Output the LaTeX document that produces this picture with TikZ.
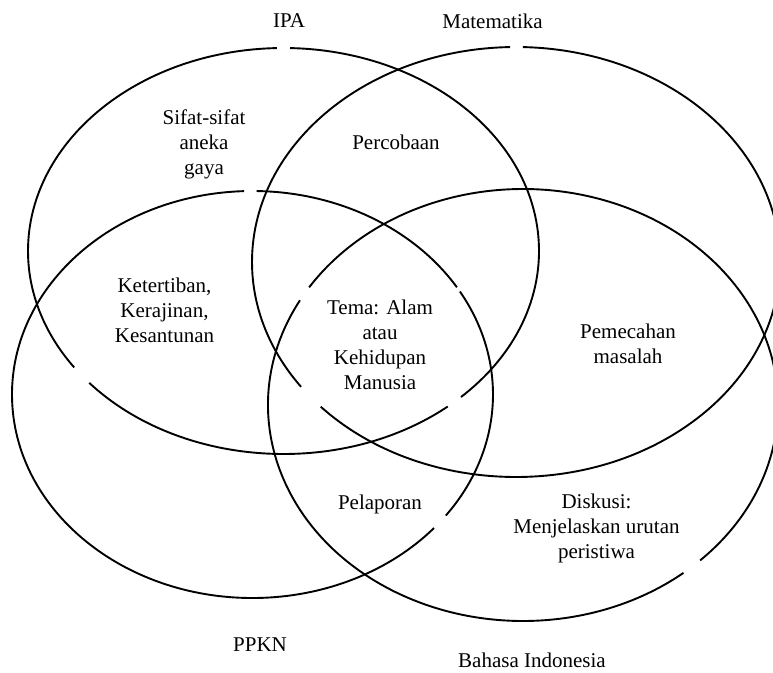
\documentclass[tikz,border=0pt]{standalone}
\usepackage{fontspec}
\setmainfont{Liberation Serif}
\newcommand\vennarc[5]{%
  \draw[venn] (#1) ++(#4:#2 and #3) arc[start angle=#4, end angle=#5, x radius=#2, y radius=#3];}
\begin{document}
\begin{tikzpicture}[x=1pt,y=1pt,
  venn/.style={line width=1.9pt, draw=black},
  lbl/.style={font=\fontsize{21}{25}\selectfont, align=center, inner sep=0pt}]
\useasboundingbox (0,-672) rectangle (773,0);
\clip (0,-672) rectangle (773,0);
% centres of the four sets
\coordinate (cA) at (283.5,-251);
\coordinate (cB) at (516,-262);
\coordinate (cC) at (252.5,-394.5);
\coordinate (cD) at (523,-405);
% IPA
\vennarc{cA}{255.5}{203}{91.5}{215}
\vennarc{cA}{255.5}{203}{220.5}{310}
\vennarc{cA}{255.5}{203}{314}{448.5}
% Matematika
\vennarc{cB}{264}{215}{91.3}{215.5}
\vennarc{cB}{264}{215}{222.3}{448.5}
% PPKN
\vennarc{cC}{240.5}{203.5}{31.8}{89}
\vennarc{cC}{240.5}{203.5}{92}{319}
\vennarc{cC}{240.5}{203.5}{323.5}{390.4}
% Bahasa Indonesia
\vennarc{cD}{255}{216}{151}{309}
\vennarc{cD}{255}{216}{314}{507}
% set titles
\node[lbl] (tIPA) at (289,-21) {IPA};
\node[lbl] (tMat) at (492.5,-21) {Matematika};
\node[lbl] (tPPKN) at (260,-645) {PPKN};
\node[lbl] (tBI) at (532,-660) {Bahasa Indonesia};
% region texts
\node[lbl] (sifat) at (204,-144) {Sifat-sifat\\aneka\\gaya};
\node[lbl] (perc) at (396,-142) {Percobaan};
\node[lbl] (ket) at (164.5,-310) {Ketertiban,\\Kerajinan,\\Kesantunan};
\node[lbl] (tema) at (380,-345) {Tema: Alam\\atau\\Kehidupan\\Manusia};
\node[lbl] (pem) at (628,-344) {Pemecahan\\masalah};
\node[lbl] (pel) at (380,-504) {Pelaporan};
\node[lbl] (disk) at (596.5,-528) {Diskusi:\\Menjelaskan urutan\\peristiwa};
\end{tikzpicture}
\end{document}
